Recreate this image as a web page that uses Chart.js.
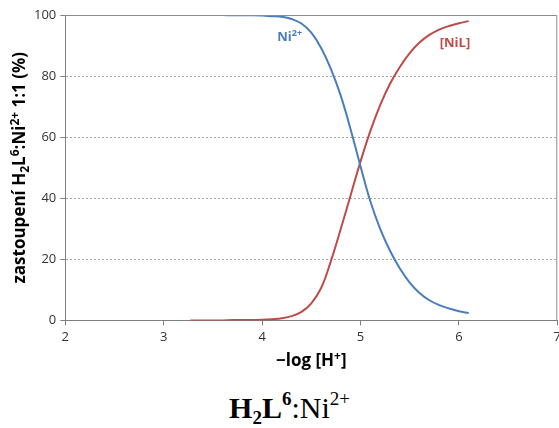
<!DOCTYPE html>
<html>
<head>
<meta charset="utf-8">
<script src="https://cdn.jsdelivr.net/npm/chart.js@4.4.0/dist/chart.umd.min.js"></script>
<style>
  html, body { margin:0; padding:0; background:#fff; }
  #wrap { position:relative; width:559px; height:428px; overflow:hidden; }
  #wrap canvas { position:absolute; left:0; top:0; }
  #caption { position:absolute; left:0; width:579px; top:388px; text-align:center;
    font-family:"Liberation Serif","DejaVu Serif",serif; font-size:30px; color:#000; }
  #caption sub { font-size:19px; vertical-align:-6px; }
  #caption sup { font-size:19px; vertical-align:13px; }
</style>
</head>
<body>
<div id="wrap">
  <canvas id="ch_species" width="565" height="372"></canvas>
  <div id="caption"><b>H<sub>2</sub>L<sup>6</sup></b>:Ni<sup>2+</sup></div>
</div>
<script>
// -log[H+] values and species distribution (%)
const pH   = [3.27,3.4,3.5,3.6,3.7,3.8,3.9,4.0,4.1,4.2,4.3,4.4,4.5,4.6,4.7,4.8,4.9,5.0,5.1,5.2,5.3,5.4,5.5,5.6,5.7,5.8,5.9,6.0,6.1];
const ni   = [100,100,100,100,99.9,99.9,99.9,99.8,99.6,99.4,98.7,97.2,94.2,89.2,82.3,73.5,62.5,50.5,39.0,30.0,22.8,17.0,12.4,9.0,6.6,5.0,3.9,3.0,2.4];
const nil  = [0,0,0,0,0.1,0.1,0.1,0.2,0.4,0.7,1.4,2.8,5.6,10.6,19.5,30.0,41.0,52.0,62.0,70.5,77.5,83.0,87.5,91.0,93.5,95.2,96.4,97.3,98.0];
const xTicks = [2,3,4,5,6,7];
const yTicks = [0,20,40,60,80,100];

// curve labels placed in data units, as runs (0 normal, 1 superscript)
const labels = [
  { parts:[['Ni',0],['2+',1]], x:4.28, y:93, color:'#4A7EBB' },
  { parts:[['[NiL]',0]],       x:5.96, y:91, color:'#BE4B48' }
];

// axis titles as runs: 0 normal, -1 subscript, 1 superscript
const yTitle = [['zastoupení H',0],['2',-1],['L',0],['6',1],[':Ni',0],['2+',1],[' 1:1 (%)',0]];
const xTitle = [['−log [H',0],['+',1],[']',0]];

const pts = (ys) => pH.map((x,i) => ({ x, y: ys[i] }));

function runs(ctx, parts, size, x, y){
  // measure then draw centred on x
  const fam = '"Open Sans", sans-serif';
  const fnt = (k) => `bold ${k ? Math.round(size*0.68) : size}px ${fam}`;
  let w = 0;
  parts.forEach(([t,k]) => { ctx.font = fnt(k); w += ctx.measureText(t).width; });
  let cx = x - w/2;
  parts.forEach(([t,k]) => {
    ctx.font = fnt(k);
    const dy = k === 1 ? -size*0.38 : k === -1 ? size*0.22 : 0;
    ctx.fillText(t, cx, y + dy);
    cx += ctx.measureText(t).width;
  });
}

const frame = {
  id:'frame',
  afterDatasetsDraw(chart){
    const { ctx, chartArea:a, scales } = chart;
    ctx.save();
    // plot area border, top and right
    ctx.strokeStyle = '#8c8c8c'; ctx.lineWidth = 1;
    ctx.beginPath();
    ctx.moveTo(a.left, a.top + 0.5); ctx.lineTo(a.right - 0.5, a.top + 0.5); ctx.lineTo(a.right - 0.5, a.bottom);
    ctx.stroke();
    ctx.textAlign = 'left'; ctx.textBaseline = 'alphabetic';
    // curve labels
    labels.forEach(l => {
      ctx.fillStyle = l.color;
      runs(ctx, l.parts, 13, scales.x.getPixelForValue(l.x), scales.y.getPixelForValue(l.y) + 5);
    });
    // axis titles
    ctx.fillStyle = '#000';
    runs(ctx, xTitle, 17, (a.left + a.right)/2, a.bottom + 46);
    ctx.translate(25, (a.top + a.bottom)/2);
    ctx.rotate(-Math.PI/2);
    runs(ctx, yTitle, 17, 0, 0);
    ctx.restore();
  }
};

const tickFont = { family:'"Open Sans", sans-serif', size:13 };

new Chart(document.getElementById('ch_species'), {
  type:'scatter',
  data:{ datasets:[
    { label:'Ni2+', data:pts(ni),  showLine:true, borderColor:'#4A7EBB', borderWidth:2, pointRadius:0, tension:0.4 },
    { label:'NiL',  data:pts(nil), showLine:true, borderColor:'#BE4B48', borderWidth:2, pointRadius:0, tension:0.4 }
  ]},
  options:{
    responsive:false, animation:false,
    layout:{ padding:{ left:30, right:2, top:15, bottom:23 } },
    plugins:{ legend:{ display:false }, tooltip:{ enabled:false } },
    scales:{
      x:{ type:'linear', min:2, max:7,
          afterBuildTicks:(s) => { s.ticks = xTicks.map(v => ({ value:v })); },
          grid:{ drawOnChartArea:false, drawTicks:true, tickLength:5, color:'#7f7f7f' },
          border:{ color:'#7f7f7f', width:1 },
          ticks:{ font:tickFont, color:'#333', padding:4 } },
      y:{ min:0, max:100,
          afterBuildTicks:(s) => { s.ticks = yTicks.map(v => ({ value:v })); },
          grid:{ color:'#a6a6a6', tickLength:5, tickColor:'#7f7f7f' },
          border:{ color:'#7f7f7f', width:1, dash:[2,2] },
          ticks:{ font:tickFont, color:'#333', padding:4 } }
    }
  },
  plugins:[frame]
});
</script>
</body>
</html>
